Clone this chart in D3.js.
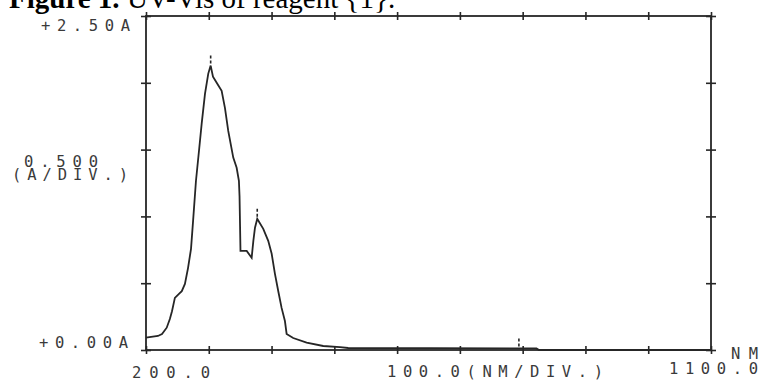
<!DOCTYPE html>
<html>
<head>
<meta charset="utf-8">
<script src="https://cdn.jsdelivr.net/npm/d3@7/dist/d3.min.js"></script>
<style>
  body { margin: 0; background: #fff; }
  svg { display: block; }
</style>
</head>
<body>
<div id="chart"></div>
<script>
// trace: wavelength (nm) vs absorbance (A)
let wavelength = [200, 219, 225.5, 233, 238, 241.4, 246, 252.5, 257, 262, 267, 271.7, 275, 279.6,
    284.9, 288.7, 294, 299.2, 303, 306.7, 312.6, 320.5, 325.8, 331, 339, 344.4, 348, 349, 350.5,
    360.4, 368.3, 371, 373.6, 377.2, 380, 386.8, 394.7, 400.2, 405.4, 410.7, 416, 421.3, 424,
    434.5, 455.9, 482.3, 509, 522, 822, 826, 1100];
let absorbance = [0.092, 0.105, 0.12, 0.167, 0.232, 0.29, 0.39, 0.42, 0.44, 0.495, 0.615, 0.757, 0.967, 1.267,
    1.514, 1.694, 1.919, 2.069, 2.129, 2.046, 2.0, 1.94, 1.81, 1.64, 1.44, 1.364, 1.267, 1.15, 0.742,
    0.742, 0.69, 0.817, 0.915, 0.982, 0.96, 0.907, 0.817, 0.72, 0.57, 0.44, 0.315, 0.217, 0.12,
    0.09, 0.055, 0.03, 0.022, 0.015, 0.012, 0.0, 0.0];

// peak marks the instrument printed above the trace
let peakNm = [303, 377.2, 794];
let peakA = [2.129, 0.982, 0.012];

let xTicks = [200, 300, 400, 500, 600, 700, 800, 900, 1000, 1100];
let yTicks = [0, 0.5, 1.0, 1.5, 2.0, 2.5];

let yLabelTop = "+2.50A", yLabelMid = ["0.500", "(A/DIV.)"], yLabelBottom = "+0.00A";
let xLabelLeft = "200.0", xLabelMid = "100.0(NM/DIV.)", xLabelRight = "1100.0", xUnit = "NM";

let width = 762, height = 383;
let margin = {top: 16, right: 51, bottom: 33, left: 146};
let ink = "#262626", textInk = "#3a3a3a";

let svg = d3.select("#chart").append("svg")
    .attr("width", width)
    .attr("height", height);

// caption, mostly cut off by the top edge
let cap = svg.append("text")
    .attr("x", 9)
    .attr("y", 8)
    .attr("font-family", "Liberation Serif, Times New Roman, serif")
    .attr("font-size", 29)
    .attr("fill", "#000");
cap.append("tspan").attr("font-weight", "bold").text("Figure 1.");
cap.append("tspan").text(" UV-Vis of reagent {1}.");

let x = d3.scaleLinear().domain([200, 1100]).range([margin.left, width - margin.right]);
let y = d3.scaleLinear().domain([0, 2.5]).range([height - margin.bottom, margin.top]);

let g = svg.append("g");

// frame
g.append("rect")
    .attr("x", x(200))
    .attr("y", y(2.5))
    .attr("width", x(1100) - x(200))
    .attr("height", y(0) - y(2.5))
    .attr("fill", "none")
    .attr("stroke", ink)
    .attr("stroke-width", 1.8);

// crossing tick marks on all four sides
function crossTicks(axis, transform) {
    let a = g.append("g").attr("transform", transform).call(axis);
    a.select(".domain").remove();
    a.selectAll(".tick text").remove();
    a.selectAll(".tick line")
        .attr("stroke", ink)
        .attr("stroke-width", 1.6);
    return a;
}

crossTicks(d3.axisBottom(x).tickValues(xTicks).tickSize(0), "translate(0," + y(0) + ")")
    .selectAll(".tick line").attr("y1", -4).attr("y2", 4);
crossTicks(d3.axisTop(x).tickValues(xTicks).tickSize(0), "translate(0," + y(2.5) + ")")
    .selectAll(".tick line").attr("y1", -4).attr("y2", 4);
crossTicks(d3.axisLeft(y).tickValues(yTicks).tickSize(0), "translate(" + x(200) + ",0)")
    .selectAll(".tick line").attr("x1", -5).attr("x2", 5);
crossTicks(d3.axisRight(y).tickValues(yTicks).tickSize(0), "translate(" + x(1100) + ",0)")
    .selectAll(".tick line").attr("x1", -5).attr("x2", 5);

// spectrum trace
let line = d3.line()
    .x(function (d) { return x(d[0]); })
    .y(function (d) { return y(d[1]); });

g.append("path")
    .datum(d3.zip(wavelength, absorbance))
    .attr("d", line)
    .attr("fill", "none")
    .attr("stroke", ink)
    .attr("stroke-width", 1.8)
    .attr("stroke-linejoin", "miter");

g.append("g")
    .selectAll("line")
    .data(d3.zip(peakNm, peakA))
    .enter().append("line")
    .attr("x1", function (d) { return x(d[0]); })
    .attr("x2", function (d) { return x(d[0]); })
    .attr("y1", function (d) { return y(d[1]) - 2; })
    .attr("y2", function (d) { return y(d[1]) - 11; })
    .attr("stroke", ink)
    .attr("stroke-width", 1.6)
    .attr("stroke-dasharray", "3,2");

// plotter-style labels, stretched to the width they take on the plot
function label(txt, lx, ly, len) {
    return svg.append("text")
        .attr("x", lx)
        .attr("y", ly)
        .attr("dy", "0.36em")
        .attr("font-family", "DejaVu Sans Mono, monospace")
        .attr("font-size", 15.5)
        .attr("textLength", len)
        .attr("lengthAdjust", "spacing")
        .attr("fill", textInk)
        .text(txt);
}

label(yLabelTop, 41, 25, 89);
label(yLabelMid[0], 24, 161.5, 74);
label(yLabelMid[1], 12, 174, 116);
label(yLabelBottom, 39, 342.5, 89);
label(xLabelLeft, 132, 372, 78);
label(xLabelMid, 387, 371, 216);
label(xLabelRight, 669, 368.5, 89);
label(xUnit, 731, 353.5, 27);
</script>
</body>
</html>
